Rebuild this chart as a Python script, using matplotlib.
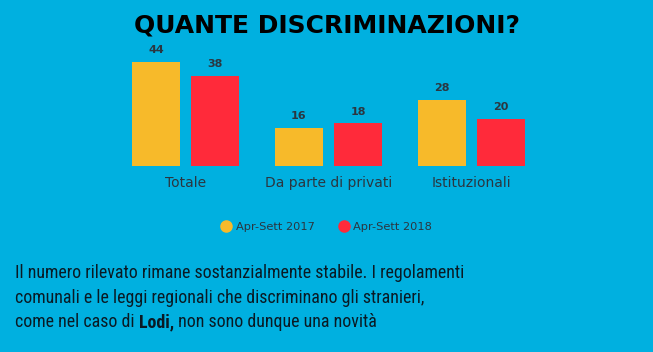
import matplotlib
matplotlib.use("Agg")
import matplotlib.pyplot as plt
from matplotlib import font_manager as fm
from matplotlib.lines import Line2D

categories = ["Totale", "Da parte di privati", "Istituzionali"]
series_names = ["Apr-Sett 2017", "Apr-Sett 2018"]
values_2017 = [44, 16, 28]
values_2018 = [38, 18, 20]
title = "QUANTE DISCRIMINAZIONI?"
body_lines = [
    [("Il numero rilevato rimane sostanzialmente stabile. I regolamenti", "normal")],
    [("comunali e le leggi regionali che discriminano gli stranieri,", "normal")],
    [("come nel caso di ", "normal"), ("Lodi,", "bold"), (" non sono dunque una novità", "normal")],
]

BG = "#00B0E0"
YELLOW = "#F7BA2A"
RED = "#FF2A3A"
TXT = "#2B3640"

W, H = 653, 352
fig = plt.figure(figsize=(W / 100, H / 100), dpi=100, facecolor=BG)

# pick a condensed font if one is installed
body_family = "Roboto"
body_stretch = "normal"
for f in fm.fontManager.ttflist:
    if f.name in ("Roboto Condensed", "Liberation Sans Narrow", "DejaVu Sans Condensed"):
        body_family = f.name
        break
else:
    for f in fm.fontManager.ttflist:
        if f.name == "DejaVu Sans" and str(f.stretch) in ("condensed", "semi-condensed"):
            body_family = "DejaVu Sans"
            body_stretch = "condensed"
            break

# bar axes: baseline at y=166 px, top at y=0 px
base_px = 166
ax = fig.add_axes([0, (H - base_px) / H, 1, base_px / H])
ax.set_facecolor(BG)
px_per_unit = 2.364
spacing = 143.0
center0 = 185.5
ax.set_xlim(-center0 / spacing, (W - center0) / spacing)
ax.set_ylim(0, base_px / px_per_unit)
bw = 48 / spacing
off = 29.5 / spacing
x = list(range(len(categories)))
b1 = ax.bar([i - off for i in x], values_2017, width=bw, color=YELLOW, label=series_names[0])
b2 = ax.bar([i + off for i in x], values_2018, width=bw, color=RED, label=series_names[1])
for bars, vals in ((b1, values_2017), (b2, values_2018)):
    for r, v in zip(bars, vals):
        ax.annotate(str(v), (r.get_x() + r.get_width() / 2, v), xytext=(0, 5),
                    textcoords="offset points", ha="center", va="bottom",
                    fontsize=8, fontweight="bold", color=TXT, family="DejaVu Sans")
ax.set_xticks(x)
ax.set_xticklabels(categories, fontsize=10, color=TXT)
ax.tick_params(axis="x", length=0, pad=7.5)
ax.set_yticks([])
for s in ax.spines.values():
    s.set_visible(False)

fig.text(326.5 / W, 1 - 26 / H, title, ha="center", va="center", fontsize=18,
         fontweight="heavy", color="black", family="DejaVu Sans")

hs = [Line2D([], [], marker="o", ls="", color=YELLOW, markersize=8),
      Line2D([], [], marker="o", ls="", color=RED, markersize=8)]
fig.legend(handles=hs, labels=series_names, loc="center",
           bbox_to_anchor=(327 / W, 1 - 227 / H), ncol=2, frameon=False,
           fontsize=8.2, handlelength=0.8, columnspacing=2.1,
           handletextpad=0.45, labelcolor=TXT)

fig.canvas.draw()
r = fig.canvas.get_renderer()

# fit body font size so the first line spans ~450 px
fs = 13.5
probe = fig.text(0, 0, body_lines[0][0][0], fontsize=fs, family=body_family,
                 fontstretch=body_stretch)
wpx = probe.get_window_extent(renderer=r).width
probe.remove()
fs = fs * 450 / wpx

line_y = [273, 298, 322]
for ly, parts in zip(line_y, body_lines):
    xpx = 15
    for txt, wgt in parts:
        t = fig.text(xpx / W, 1 - ly / H, txt, ha="left", va="center", fontsize=fs,
                     fontweight=wgt, color="#0A1A24", family=body_family,
                     fontstretch=body_stretch)
        bb = t.get_window_extent(renderer=r)
        xpx += bb.width

fig.savefig("out.png", dpi=100, facecolor=BG)
